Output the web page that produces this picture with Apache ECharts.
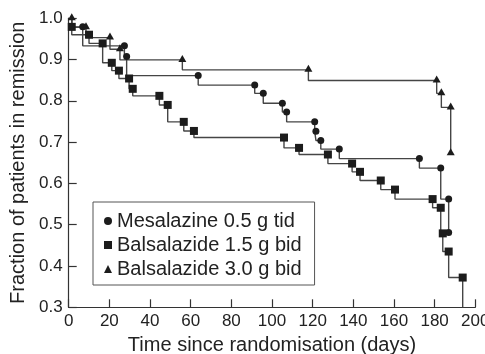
<!DOCTYPE html>
<html>
<head>
<meta charset="utf-8">
<script src="https://cdn.jsdelivr.net/npm/echarts@6/dist/echarts.min.js"></script>
<style>
html,body{margin:0;padding:0;background:#fff;}
#chart{width:485px;height:354px;}
</style>
</head>
<body>
<div id="chart"></div>
<script>
// ---- data ----
var seriesNames = ['Mesalazine 0.5 g tid', 'Balsalazide 1.5 g bid', 'Balsalazide 3.0 g bid'];

var mesDays = [1.5, 6.9, 27.4, 28.5, 63.7, 91.5, 95.7, 105.1, 107.2, 121.0, 121.6, 124.0, 133.1, 172.5, 183.0, 186.9, 186.9];
var mesFrac = [1.0, 0.979, 0.933, 0.907, 0.861, 0.838, 0.818, 0.794, 0.773, 0.749, 0.726, 0.704, 0.683, 0.660, 0.637, 0.562, 0.481];
var mesNoMark = [0];

var bal15Days = [1.5, 1.5, 10.0, 16.7, 21.2, 24.7, 29.7, 31.5, 44.6, 48.7, 56.6, 61.6, 105.9, 113.3, 127.5, 139.4, 143.3, 153.5, 160.5, 179.0, 183.0, 184.0, 186.9, 193.8, 193.8];
var bal15Frac = [1.0, 0.979, 0.960, 0.939, 0.892, 0.873, 0.854, 0.829, 0.812, 0.790, 0.749, 0.727, 0.711, 0.686, 0.670, 0.648, 0.628, 0.607, 0.585, 0.562, 0.541, 0.479, 0.435, 0.372, 0.30];
var bal15NoMark = [0, 24];

var bal30Days = [1.5, 8.5, 20.3, 25.2, 55.9, 117.9, 181.0, 183.3, 187.9, 187.9];
var bal30Frac = [1.0, 0.978, 0.953, 0.925, 0.899, 0.875, 0.849, 0.818, 0.784, 0.673];
var bal30NoMark = [];

var xTicks = [0, 20, 40, 60, 80, 100, 120, 140, 160, 180, 200];
var yTicks = [0.3, 0.4, 0.5, 0.6, 0.7, 0.8, 0.9, 1.0];

function build(days, frac, noMark) {
  return days.map(function (d, i) {
    var item = { value: [d, frac[i]] };
    if (noMark.indexOf(i) >= 0) item.symbol = 'none';
    return item;
  });
}

var FONT = '"Liberation Sans", Arial, sans-serif';
var lineStyle = { color: '#454545', width: 1.4 };
var itemStyle = { color: '#1c1c1c' };

var chart = echarts.init(document.getElementById('chart'), null, { renderer: 'canvas' });
chart.setOption({
  animation: false,
  backgroundColor: '#ffffff',
  textStyle: { fontFamily: FONT },
  grid: { left: 68.7, right: 9.7, top: 18.2, bottom: 46.7, containLabel: false, outerBoundsMode: 'none' },
  legend: {
    orient: 'vertical',
    left: 93, top: 202,
    padding: [9, 13, 6, 11],
    itemGap: 4,
    itemWidth: 8, itemHeight: 8,
    borderColor: '#555', borderWidth: 1,
    backgroundColor: '#fff',
    selectedMode: false,
    textStyle: { fontFamily: FONT, fontSize: 20, color: '#222', lineHeight: 20 },
    data: [
      { name: seriesNames[0], icon: 'circle', itemStyle: { color: '#1c1c1c' } },
      { name: seriesNames[1], icon: 'rect', itemStyle: { color: '#1c1c1c' } },
      { name: seriesNames[2], icon: 'triangle', itemStyle: { color: '#1c1c1c' } }
    ]
  },
  xAxis: {
    type: 'value', min: xTicks[0], max: xTicks[xTicks.length - 1], interval: 20,
    name: 'Time since randomisation (days)', nameLocation: 'middle', nameGap: 27,
    nameTextStyle: { fontFamily: FONT, fontSize: 20, color: '#222' },
    axisLine: { show: true, lineStyle: { color: '#333', width: 1.2 } },
    axisTick: { show: true, inside: true, length: 8, lineStyle: { color: '#333', width: 1.2 } },
    axisLabel: { fontFamily: FONT, fontSize: 17, color: '#222', margin: 6 },
    splitLine: { show: false }
  },
  yAxis: {
    type: 'value', min: yTicks[0], max: yTicks[yTicks.length - 1], interval: 0.1,
    name: 'Fraction of patients in remission', nameLocation: 'middle', nameGap: 37,
    nameTextStyle: { fontFamily: FONT, fontSize: 20, color: '#222' },
    axisLine: { show: true, lineStyle: { color: '#333', width: 1.2 } },
    axisTick: { show: true, inside: true, length: 8, lineStyle: { color: '#333', width: 1.2 } },
    axisLabel: { fontFamily: FONT, fontSize: 17, color: '#222', margin: 6,
      formatter: function (v) { return v.toFixed(1); } },
    splitLine: { show: false }
  },
  series: [
    { name: seriesNames[0], type: 'line', step: 'start', data: build(mesDays, mesFrac, mesNoMark),
      symbol: 'circle', symbolSize: 7, showAllSymbol: true, lineStyle: lineStyle, itemStyle: itemStyle, z: 3 },
    { name: seriesNames[1], type: 'line', step: 'start', data: build(bal15Days, bal15Frac, bal15NoMark),
      symbol: 'rect', symbolSize: 8, showAllSymbol: true, lineStyle: lineStyle, itemStyle: itemStyle, z: 3 },
    { name: seriesNames[2], type: 'line', step: 'start', data: build(bal30Days, bal30Frac, bal30NoMark),
      symbol: 'triangle', symbolSize: [8, 7], symbolOffset: [0, -1.5], showAllSymbol: true, lineStyle: lineStyle, itemStyle: itemStyle, z: 3 }
  ]
});
</script>
</body>
</html>
